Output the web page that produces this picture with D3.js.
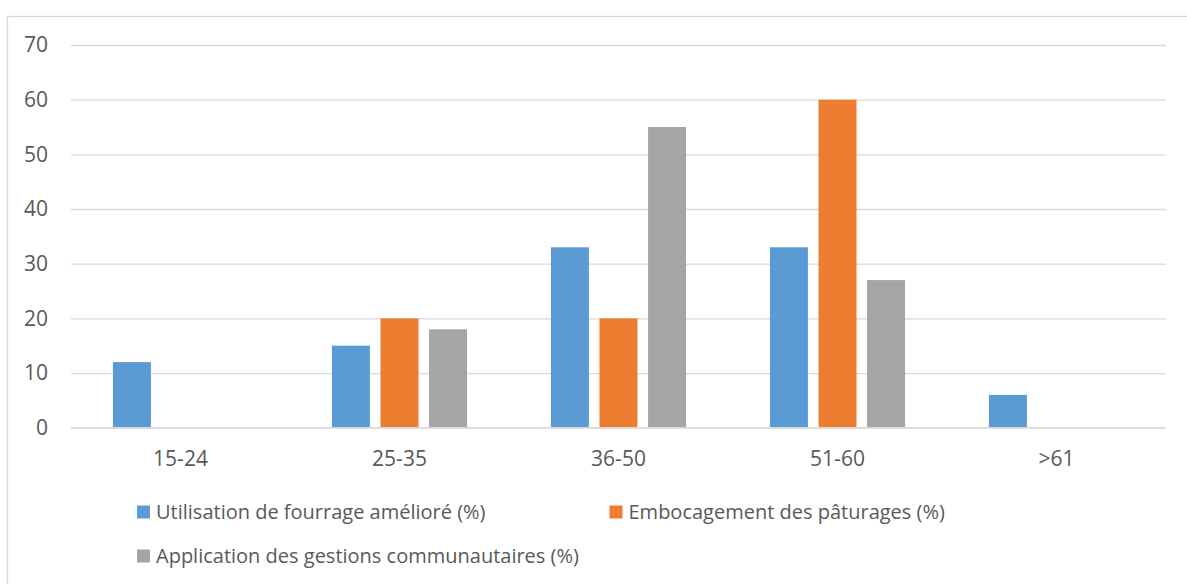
<!DOCTYPE html>
<html>
<head>
<meta charset="utf-8">
<script src="https://cdn.jsdelivr.net/npm/d3@7"></script>
<style>
  html, body { margin: 0; padding: 0; background: #fff; }
  svg { display: block; font-family: "Open Sans", "Noto Sans", sans-serif; }
</style>
</head>
<body>
<svg id="chart" width="1187" height="584"></svg>
<script>
// Age groups on the x axis
const categories = ["15-24", "25-35", "36-50", "51-60", ">61"];
// Series names (legend order)
const seriesNames = [
  "Utilisation de fourrage amélioré (%)",
  "Embocagement des pâturages (%)",
  "Application des gestions communautaires (%)"
];
// Values per series, one per age group
const fourrage = [12, 15, 33, 33, 6];
const embocagement = [0, 20, 20, 60, 0];
const gestion = [0, 18, 55, 27, 0];
// Y axis ticks
const yTicks = [0, 10, 20, 30, 40, 50, 60, 70];

const seriesValues = [fourrage, embocagement, gestion];
const colors = ["#5b9bd5", "#ed7d31", "#a5a5a5"];
const textColor = "#595959";
const gridColor = "#d9d9d9";

const svg = d3.select("#chart");

// Outer chart frame
svg.append("rect")
  .attr("x", 7.5).attr("y", 16.5)
  .attr("width", 1200).attr("height", 600)
  .attr("fill", "none")
  .attr("stroke", gridColor)
  .attr("stroke-width", 1.3);

const plot = { left: 71, right: 1166, top: 45, bottom: 427.7 };

const y = d3.scaleLinear().domain([0, 70]).range([plot.bottom, plot.top]);
const x0 = d3.scaleBand().domain(categories).range([plot.left, plot.right]).padding(0);

// Bars inside a category take the centred portion of the band
const groupFrac = 0.617;
const x1 = d3.scaleBand().domain(d3.range(seriesNames.length))
  .range([0, x0.bandwidth() * groupFrac])
  .paddingInner(0.218).paddingOuter(0);
const groupOffset = (x0.bandwidth() - x0.bandwidth() * groupFrac) / 2;

// Gridlines + y labels
const yAxis = d3.axisLeft(y).tickValues(yTicks).tickSize(-(plot.right - plot.left)).tickPadding(23);
const gy = svg.append("g").attr("transform", `translate(${plot.left},0)`).call(yAxis);
gy.select(".domain").remove();
gy.selectAll(".tick line").attr("stroke", gridColor).attr("stroke-width", 1.3);
gy.selectAll(".tick text")
  .attr("fill", textColor)
  .style("font-size", "21px")
  .style("font-family", "'Open Sans', sans-serif");

// Bars
const rows = categories.map((c, i) => ({ cat: c, vals: seriesValues.map(s => s[i]) }));
const groups = svg.append("g").selectAll("g").data(rows).join("g")
  .attr("transform", d => `translate(${x0(d.cat) + groupOffset},0)`);
groups.selectAll("rect")
  .data(d => d.vals.map((v, k) => ({ v, k })))
  .join("rect")
  .attr("x", d => x1(d.k))
  .attr("width", x1.bandwidth())
  .attr("y", d => y(d.v))
  .attr("height", d => y(0) - y(d.v))
  .attr("fill", d => colors[d.k]);

// Redraw the baseline over the bars
svg.append("line")
  .attr("x1", plot.left).attr("x2", plot.right)
  .attr("y1", y(0)).attr("y2", y(0))
  .attr("stroke", gridColor).attr("stroke-width", 1.3);

// Category labels
const xAxis = d3.axisBottom(x0).tickSize(0).tickPadding(23);
const gx = svg.append("g").attr("transform", `translate(0,${plot.bottom})`).call(xAxis);
gx.select(".domain").remove();
gx.selectAll(".tick text")
  .attr("fill", textColor)
  .style("font-size", "21px")
  .style("font-family", "'Open Sans', sans-serif");

// Legend
const legendPos = [
  { x: 137, y: 512 },
  { x: 609.5, y: 512 },
  { x: 137, y: 556 }
];
const legend = svg.append("g").selectAll("g").data(seriesNames).join("g")
  .attr("transform", (d, i) => `translate(${legendPos[i].x},${legendPos[i].y})`);
legend.append("rect")
  .attr("x", 0).attr("y", -6.5)
  .attr("width", 13).attr("height", 13)
  .attr("fill", (d, i) => colors[i]);
legend.append("text")
  .attr("x", 19).attr("y", 0)
  .attr("dy", "0.35em")
  .attr("fill", textColor)
  .style("font-size", "20px")
  .text(d => d);
</script>
</body>
</html>
